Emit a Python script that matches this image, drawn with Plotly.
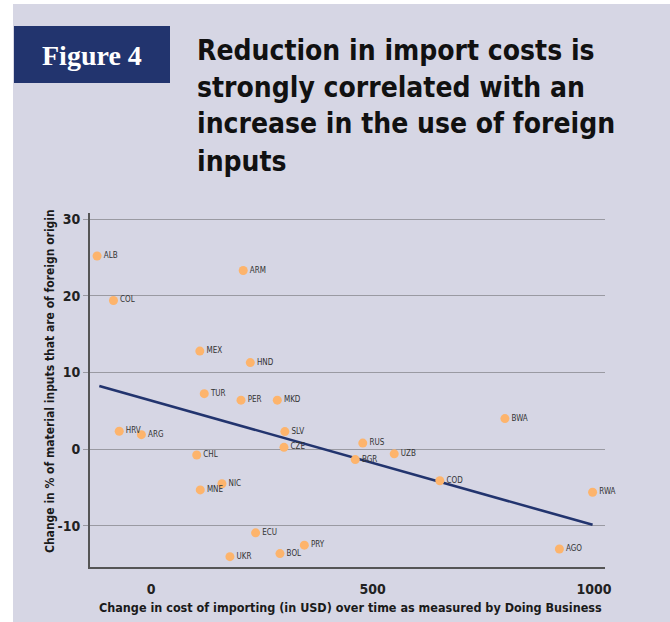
import plotly.graph_objects as go

# ---- data ----
countries = ["ALB", "COL", "HRV", "ARG", "CHL", "MEX", "MNE", "TUR", "NIC", "UKR",
             "PER", "ARM", "HND", "ECU", "MKD", "BOL", "CZE", "SLV", "PRY", "BGR",
             "RUS", "UZB", "COD", "BWA", "AGO", "RWA"]
cost_change = [-122, -85, -72, -22, 103, 110, 111, 120, 160, 178,
               203, 208, 224, 236, 285, 291, 300, 302, 346, 461,
               478, 549, 652, 799, 922, 997]
foreign_share_change = [25.2, 19.4, 2.35, 1.9, -0.75, 12.8, -5.3, 7.25, -4.5, -14.0,
                        6.4, 23.3, 11.3, -10.9, 6.4, -13.6, 0.25, 2.3, -12.5, -1.35,
                        0.8, -0.6, -4.1, 4.0, -13.0, -5.6]
trend_x = [-117, 997]
trend_y = [8.25, -9.85]

x_ticks = [0, 500, 1000]
y_ticks = [-10, 0, 10, 20, 30]

W, H = 670, 622
ML, MR, MT, MB = 90, 65, 213, 55
PW, PH = W - ML - MR, H - MT - MB

def px(x):
    return (x - ML) / PW

def py(y):
    return (H - MB - y) / PH

BG = "#D6D6E4"
NAVY = "#22346E"
ORANGE = "#FDB46C"
NARROW = "DejaVu Sans Condensed, DejaVu Sans, sans-serif"

def nfont(size, color):
    return dict(family=NARROW, size=size, color=color)

fig = go.Figure()
fig.add_trace(go.Scatter(
    x=trend_x, y=trend_y, mode="lines",
    line=dict(color=NAVY, width=2.6), hoverinfo="skip", showlegend=False))
fig.add_trace(go.Scatter(
    x=cost_change, y=foreign_share_change, mode="markers+text",
    text=countries, textposition="middle right", cliponaxis=False,
    textfont=nfont(8, "#333333"),
    marker=dict(color=ORANGE, size=9, line=dict(width=0)),
    showlegend=False))

shapes = [
    dict(type="rect", xref="paper", yref="paper", x0=px(0), x1=px(W), y0=py(4), y1=py(0),
         fillcolor="white", line=dict(width=0), layer="below"),
    dict(type="rect", xref="paper", yref="paper", x0=px(0), x1=px(13), y0=py(H), y1=py(0),
         fillcolor="white", line=dict(width=0), layer="below"),
    dict(type="rect", xref="paper", yref="paper", x0=px(14), x1=px(170), y0=py(83), y1=py(26),
         fillcolor=NAVY, line=dict(width=0), layer="above"),
]

title_lines = ["Reduction in import costs is", "strongly correlated with an",
               "increase in the use of foreign", "inputs"]
title_y = [50, 87, 124, 161]
annotations = [
    dict(xref="paper", yref="paper", x=px(92), y=py(55), text="<b>Figure 4</b>",
         showarrow=False, xanchor="center", yanchor="middle",
         font=dict(family="Liberation Serif, DejaVu Serif, serif", size=28, color="white")),
]
for t, yy in zip(title_lines, title_y):
    annotations.append(dict(xref="paper", yref="paper", x=px(195), y=py(yy), text="<b>" + t + "</b>",
                            showarrow=False, xanchor="left", yanchor="middle",
                            font=nfont(28, "#111111")))
annotations.append(dict(xref="paper", yref="paper", x=px(350), y=py(607),
                        text="<b>Change in cost of importing (in USD) over time as measured by Doing Business</b>",
                        showarrow=False, xanchor="center", yanchor="middle",
                        font=nfont(12.5, "#1a1a1a")))
annotations.append(dict(xref="paper", yref="paper", x=px(50), y=py(381),
                        text="<b>Change in % of material inputs that are of foreign origin</b>",
                        showarrow=False, xanchor="center", yanchor="middle", textangle=-90,
                        font=nfont(12, "#1a1a1a")))

fig.update_layout(
    width=W, height=H,
    margin=dict(l=ML, r=MR, t=MT, b=MB),
    paper_bgcolor=BG, plot_bgcolor=BG,
    shapes=shapes, annotations=annotations,
    xaxis=dict(range=[-138, 1025], tickvals=x_ticks, ticktext=["<b>%d</b>" % v for v in x_ticks],
               showgrid=False, zeroline=False, showline=True, linecolor="#555555", linewidth=2,
               ticks="outside", ticklen=8, tickcolor="rgba(0,0,0,0)",
               tickfont=nfont(14, "#222222")),
    yaxis=dict(range=[-15.35, 30.8], tickvals=y_ticks, ticktext=["<b>%d</b>" % v for v in y_ticks],
               showgrid=True, gridcolor="#9a9aa2", gridwidth=1, zeroline=False,
               showline=True, linecolor="#555555", linewidth=2,
               ticks="outside", ticklen=5, tickcolor="#9a9aa2",
               tickfont=nfont(14, "#222222")),
)

fig.write_html("out.html", config={"displayModeBar": False},
               post_script="document.body.style.margin='0';")
